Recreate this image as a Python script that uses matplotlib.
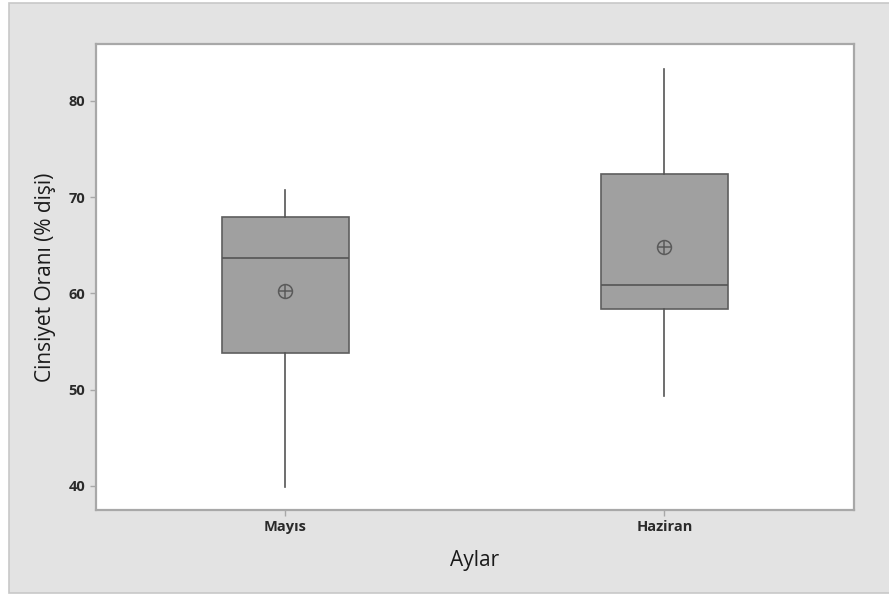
import matplotlib.pyplot as plt
from matplotlib.patches import Rectangle

plt.rcParams['font.family'] = ['Open Sans', 'DejaVu Sans']

# Özet istatistikler (aylara göre dişi oranı)
aylar = ['Mayıs', 'Haziran']
alt_biyik = [39.9, 49.3]
q1 = [53.8, 58.4]
medyan = [63.7, 60.9]
q3 = [67.9, 72.4]
ust_biyik = [70.7, 83.3]
ortalama = [60.2, 64.8]

stats = []
for i, ay in enumerate(aylar):
    stats.append({'label': ay, 'whislo': alt_biyik[i], 'q1': q1[i], 'med': medyan[i],
                  'q3': q3[i], 'whishi': ust_biyik[i], 'mean': ortalama[i]})

fig = plt.figure(figsize=(8.89, 5.96), dpi=100)
fig.patch.set_facecolor('white')
# gri arka panel
fig.patches.append(Rectangle((9 / 889, 3 / 596), 1.0, 590 / 596, transform=fig.transFigure,
                             facecolor='#e3e3e3', edgecolor='#c8c8c8', linewidth=1.2, zorder=-10))

ax = fig.add_axes([0.1077, 0.1443, 0.853, 0.782])
ax.set_facecolor('white')

kutu = ax.bxp(stats, positions=[1, 2], widths=0.335, patch_artist=True, showcaps=False,
              showmeans=False, showfliers=False,
              boxprops=dict(facecolor='#a0a0a0', edgecolor='#5e5e5e', linewidth=1.2),
              medianprops=dict(color='#555555', linewidth=1.2),
              whiskerprops=dict(color='#555555', linewidth=1.2))

# ortalama işaretleri (⊕)
ax.plot([1, 2], ortalama, linestyle='none', marker='o', markersize=10,
        markerfacecolor='none', markeredgecolor='#5a5a5a', markeredgewidth=1.1, zorder=5)
ax.plot([1, 2], ortalama, linestyle='none', marker='+', markersize=10,
        markeredgecolor='#5a5a5a', markeredgewidth=1.1, zorder=5)

ax.set_xlim(0.5, 2.5)
ax.set_ylim(37.5, 85.9)
ax.set_yticks([40, 50, 60, 70, 80])
ax.set_xticks([1, 2])
ax.set_xticklabels(aylar)

for s in ax.spines.values():
    s.set_color('#a8a8a8')
    s.set_linewidth(1.6)
ax.tick_params(axis='both', direction='out', length=4, width=1, color='#a8a8a8',
               labelsize=10.5, labelcolor='#2a2a2a')
for lbl in ax.get_xticklabels() + ax.get_yticklabels():
    lbl.set_fontweight('bold')

ax.set_xlabel('Aylar', fontsize=15, color='#1a1a1a', labelpad=11)
ax.set_ylabel('Cinsiyet Oranı (% dişi)', fontsize=15, color='#1a1a1a', labelpad=9)

fig.savefig('out.png', dpi=100)
